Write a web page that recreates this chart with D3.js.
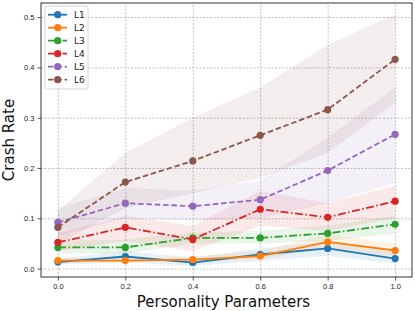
<!DOCTYPE html>
<html>
<head>
<meta charset="utf-8">
<script src="https://cdn.jsdelivr.net/npm/d3@7"></script>
<style>
  body { margin: 0; background: #fff; }
  svg { font-family: "DejaVu Sans", sans-serif; }
  .tick text { font-size: 7.5px; fill: #222; }
  .grid line { stroke: #b0b0b0; stroke-dasharray: 2,1.6; stroke-width: 0.8; }
  .grid .domain { display: none; }
</style>
</head>
<body>
<div id="chart"></div>
<script>
// personality parameter values on x
var params = [0.0, 0.2, 0.4, 0.6, 0.8, 1.0];
var names = ['L1', 'L2', 'L3', 'L4', 'L5', 'L6'];
var colors = ['#1f77b4', '#ff7f0e', '#2ca02c', '#d62728', '#9467bd', '#8c564b'];
var xTicks = [0.0, 0.2, 0.4, 0.6, 0.8, 1.0];
var yTicks = [0.0, 0.1, 0.2, 0.3, 0.4, 0.5];

// mean crash rate
var L1 = [0.013, 0.024, 0.012, 0.028, 0.040, 0.020];
var L2 = [0.016, 0.016, 0.018, 0.025, 0.053, 0.036];
var L3 = [0.042, 0.042, 0.061, 0.061, 0.070, 0.088];
var L4 = [0.052, 0.082, 0.058, 0.118, 0.102, 0.134];
var L5 = [0.092, 0.130, 0.124, 0.137, 0.195, 0.267];
var L6 = [0.082, 0.172, 0.214, 0.265, 0.316, 0.416];

// shaded band (lower / upper)
var L1lo = [0.008, 0.012, 0.005, 0.015, 0.025, 0.010];
var L1hi = [0.020, 0.035, 0.022, 0.040, 0.055, 0.032];
var L2lo = [0.012, 0.013, 0.014, 0.018, 0.040, 0.025];
var L2hi = [0.022, 0.020, 0.024, 0.035, 0.068, 0.050];
var L3lo = [0.030, 0.030, 0.050, 0.050, 0.055, 0.070];
var L3hi = [0.055, 0.058, 0.072, 0.075, 0.085, 0.105];
var L4lo = [0.035, 0.055, 0.035, 0.085, 0.075, 0.100];
var L4hi = [0.070, 0.105, 0.085, 0.155, 0.130, 0.165];
var L5lo = [0.065, 0.100, 0.095, 0.100, 0.130, 0.170];
var L5hi = [0.120, 0.160, 0.155, 0.175, 0.260, 0.360];
var L6lo = [0.050, 0.120, 0.150, 0.180, 0.230, 0.330];
var L6hi = [0.115, 0.230, 0.300, 0.360, 0.445, 0.505];

var means = [L1, L2, L3, L4, L5, L6];
var lows = [L1lo, L2lo, L3lo, L4lo, L5lo, L6lo];
var highs = [L1hi, L2hi, L3hi, L4hi, L5hi, L6hi];
var dashes = [null, null, '8,2.5,1.5,2.5', '8,2.5,1.5,2.5', '5.5,2.8', '5.5,2.8'];

var W = 415, H = 311;
var margin = {top: 3, right: 3, bottom: 34, left: 41};
var width = W - margin.left - margin.right, height = H - margin.top - margin.bottom;

var svg = d3.select('#chart').append('svg')
    .attr('width', W).attr('height', H)
  .append('g')
    .attr('transform', 'translate(' + margin.left + ',' + margin.top + ')');

var x = d3.scaleLinear().domain([-0.05, 1.05]).range([0, width]);
var y = d3.scaleLinear().domain([-0.0167, 0.528]).range([height, 0]);

// gridlines
svg.append('g').attr('class', 'grid')
    .attr('transform', 'translate(0,' + height + ')')
    .call(d3.axisBottom(x).tickValues(xTicks).tickSize(-height).tickFormat(''));
svg.append('g').attr('class', 'grid')
    .call(d3.axisLeft(y).tickValues(yTicks).tickSize(-width).tickFormat(''));

// bands
var area = d3.area()
    .x(function(d) { return x(d[0]); })
    .y0(function(d) { return y(d[1]); })
    .y1(function(d) { return y(d[2]); });
means.forEach(function(m, i) {
  svg.append('path')
    .attr('d', area(params.map(function(p, j) { return [p, lows[i][j], highs[i][j]]; })))
    .attr('fill', colors[i])
    .attr('fill-opacity', 0.1);
});

// lines + markers
var line = d3.line()
    .x(function(d) { return x(d[0]); })
    .y(function(d) { return y(d[1]); });
means.forEach(function(m, i) {
  var pts = params.map(function(p, j) { return [p, m[j]]; });
  svg.append('path')
    .attr('d', line(pts))
    .attr('fill', 'none')
    .attr('stroke', colors[i])
    .attr('stroke-width', 1.8)
    .attr('stroke-dasharray', dashes[i]);
  svg.append('g').selectAll('circle')
    .data(pts).enter().append('circle')
    .attr('cx', function(d) { return x(d[0]); })
    .attr('cy', function(d) { return y(d[1]); })
    .attr('r', 3.6)
    .attr('fill', colors[i]);
});

// axes
var xAxis = svg.append('g')
    .attr('transform', 'translate(0,' + height + ')')
    .call(d3.axisBottom(x).tickValues(xTicks).tickSize(3.5).tickPadding(3).tickFormat(d3.format('.1f')));
var yAxis = svg.append('g')
    .call(d3.axisLeft(y).tickValues(yTicks).tickSize(3.5).tickPadding(3).tickFormat(d3.format('.1f')));
[xAxis, yAxis].forEach(function(a) {
  a.select('.domain').remove();
  a.selectAll('.tick line').attr('stroke', '#333').attr('stroke-width', 0.8);
});

// frame
svg.append('rect')
    .attr('width', width).attr('height', height)
    .attr('fill', 'none').attr('stroke', '#333').attr('stroke-width', 1);

// axis labels
svg.append('text')
    .attr('x', width / 2 - 3).attr('y', height + 30)
    .attr('text-anchor', 'middle')
    .style('font-size', '15px').style('fill', '#111')
    .text('Personality Parameters');
svg.append('text')
    .attr('transform', 'translate(' + (-27.5) + ',' + (height / 2) + ')rotate(-90)')
    .attr('text-anchor', 'middle')
    .style('font-size', '15px').style('fill', '#111')
    .text('Crash Rate');

// legend
var legend = svg.append('g').attr('transform', 'translate(4,3)');
legend.append('rect')
    .attr('width', 43).attr('height', 83).attr('rx', 2)
    .attr('fill', '#fff').attr('fill-opacity', 0.8)
    .attr('stroke', '#ccc').attr('stroke-width', 0.8);
names.forEach(function(n, i) {
  var row = legend.append('g').attr('transform', 'translate(0,' + (8.7 + i * 13) + ')');
  row.append('line')
    .attr('x1', 3).attr('x2', 22)
    .attr('stroke', colors[i]).attr('stroke-width', 1.8)
    .attr('stroke-dasharray', dashes[i]);
  row.append('circle').attr('cx', 12.7).attr('r', 3.6).attr('fill', colors[i]);
  row.append('text')
    .attr('x', 29).attr('dy', '0.35em')
    .style('font-size', '9px').style('fill', '#222')
    .text(n);
});
</script>
</body>
</html>
